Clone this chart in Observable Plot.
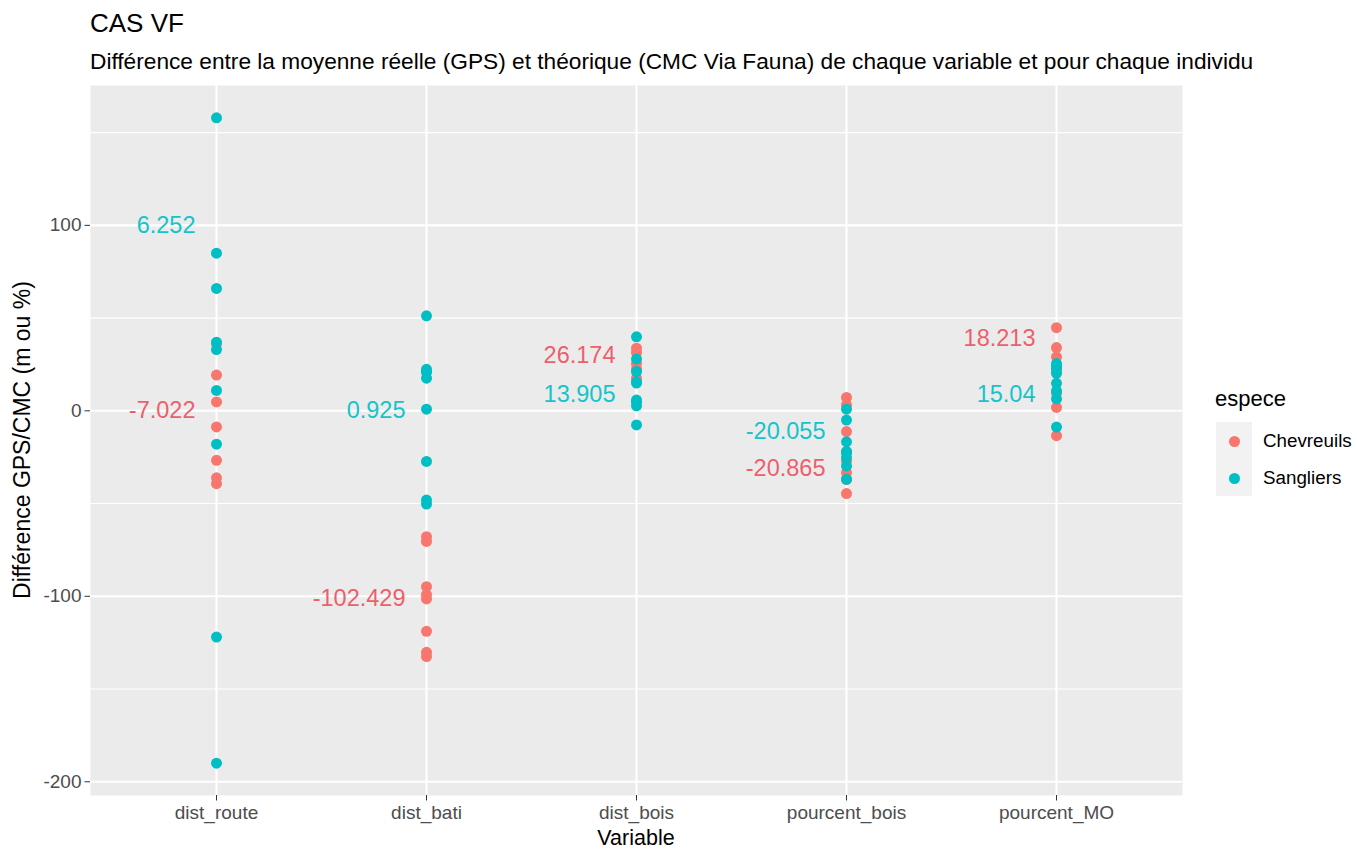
<!DOCTYPE html>
<html>
<head>
<meta charset="utf-8">
<script src="https://cdn.jsdelivr.net/npm/d3@7"></script>
<script src="https://cdn.jsdelivr.net/npm/@observablehq/plot@0.6"></script>
<style>
  html, body { margin: 0; padding: 0; background: #ffffff; }
  #wrap { position: relative; width: 1357px; height: 850px; overflow: hidden; font-family: "Liberation Sans", Arial, sans-serif; }
  #wrap svg { position: absolute; left: 0; top: 0; }
  .t { position: absolute; white-space: nowrap; line-height: 1; }
</style>
</head>
<body>
<div id="wrap"></div>
<script>
// ---- Data ----
const variables = ["dist_route", "dist_bati", "dist_bois", "pourcent_bois", "pourcent_MO"];
const especes = ["Chevreuils", "Sangliers"];

// Chevreuils (difference per individual)
const chev_dist_route = [19.3, 4.8, -8.7, -26.7, -36.1, -39.3, 36];
const chev_dist_bati = [-67.9, -70.4, -94.8, -99.1, -101.4, -118.9, -130.2, -132.5];
const chev_dist_bois = [33.8, 31.5, 22.5, 17.6, 25.5];
const chev_pourcent_bois = [7.2, 3.2, -11.2, -27.0, -33.3, -44.6, -37.0, -22.0];
const chev_pourcent_MO = [44.8, 34.1, 29.1, 9.5, 1.8, -13.4, 21.0];

// Sangliers
const sang_dist_route = [158, 85, 66, 37, 33, 11, -18, -122, -190];
const sang_dist_bati = [51.2, 22.4, 17.6, 0.9, -27.3, -48.1, -50.3, 21, 21];
const sang_dist_bois = [39.9, 27.9, 21.2, 15.6, 5.8, 2.7, -7.6, 15, 4.6];
const sang_pourcent_bois = [0.9, -5.0, -16.7, -22.5, -25.2, -29.7, -36.9, -22.0];
const sang_pourcent_MO = [25.5, 22.9, 20.2, 14.8, 10.7, 6.4, -8.75, 24, 23];

// Mean labels
const labelVariable = ["dist_route", "dist_route", "dist_bati", "dist_bati", "dist_bois", "dist_bois", "pourcent_bois", "pourcent_bois", "pourcent_MO", "pourcent_MO"];
const labelEspece = ["Chevreuils", "Sangliers", "Chevreuils", "Sangliers", "Chevreuils", "Sangliers", "Chevreuils", "Sangliers", "Chevreuils", "Sangliers"];
const labelText = ["-7.022", "6.252", "-102.429", "0.925", "26.174", "13.905", "-20.865", "-20.055", "18.213", "15.04"];
const labelY = [0, 100, -101, 0, 30, 9, -31, -11, 39, 9];

const yMajor = [-200, -100, 0, 100];
const yMinor = [-150, -50, 50, 150];

const titleText = "CAS VF";
const subtitleText = "Différence entre la moyenne réelle (GPS) et théorique (CMC Via Fauna) de chaque variable et pour chaque individu";
const xTitle = "Variable";
const yTitle = "Différence GPS/CMC (m ou %)";
const legendTitle = "espece";

// ---- Build table ----
const series = [
  ["Chevreuils", [chev_dist_route, chev_dist_bati, chev_dist_bois, chev_pourcent_bois, chev_pourcent_MO]],
  ["Sangliers", [sang_dist_route, sang_dist_bati, sang_dist_bois, sang_pourcent_bois, sang_pourcent_MO]]
];
const points = [];
for (const [esp, arrs] of series) {
  arrs.forEach((arr, i) => arr.forEach(v => points.push({espece: esp, variable: variables[i], value: v})));
}
const labels = labelText.map((t, i) => ({variable: labelVariable[i], espece: labelEspece[i], text: t, y: labelY[i]}));

const ext = d3.extent(points, d => d.value);
const pad = (ext[1] - ext[0]) * 0.05;

const colors = ["#F8766D", "#00BFC4"];
const labelColors = ["#EC5F6C", "#14C4CB"];

const plot = Plot.plot({
  width: 1357,
  height: 850,
  marginLeft: 90,
  marginRight: 175,
  marginTop: 85,
  marginBottom: 55,
  style: {fontFamily: "'Liberation Sans', Arial, sans-serif", background: "transparent", overflow: "visible"},
  x: {type: "point", domain: variables, padding: 0.6, label: null},
  y: {domain: [ext[0] - pad, ext[1] + pad], label: null},
  color: {domain: especes, range: colors},
  marks: [
    Plot.frame({fill: "#EBEBEB", stroke: null}),
    Plot.ruleY(yMinor, {stroke: "#FFFFFF", strokeWidth: 1.1}),
    Plot.ruleY(yMajor, {stroke: "#FFFFFF", strokeWidth: 2.1}),
    Plot.ruleX(variables, {stroke: "#FFFFFF", strokeWidth: 2.1}),
    Plot.dot(points, {x: "variable", y: "value", fill: "espece", r: 5.5, stroke: null}),
    ...especes.map((e, i) => Plot.text(labels.filter(d => d.espece === e), {x: "variable", y: "y", text: "text", fill: labelColors[i], textAnchor: "end", dx: -21, fontSize: 23.5})),
    Plot.axisY({ticks: yMajor, tickFormat: d => String(d), tickSize: 5.5, tickPadding: 3.5, fontSize: 19, color: "#4D4D4D", stroke: "#333333", label: null}),
    Plot.axisX({tickSize: 5.5, tickPadding: 4, fontSize: 19, color: "#4D4D4D", stroke: "#333333", label: null})
  ]
});

const wrap = document.getElementById("wrap");
wrap.appendChild(plot);

function addText(txt, css) {
  const d = document.createElement("div");
  d.className = "t";
  d.textContent = txt;
  Object.assign(d.style, css);
  wrap.appendChild(d);
  return d;
}
addText(titleText, {left: "90px", top: "10px", fontSize: "26px", color: "#000"});
addText(subtitleText, {left: "90px", top: "50px", fontSize: "22.7px", color: "#000"});
addText(xTitle, {left: "636px", top: "829px", fontSize: "21.5px", lineHeight: "18px", color: "#000", transform: "translateX(-50%)"});
addText(yTitle, {left: "22px", top: "440px", fontSize: "23px", color: "#000", transform: "translate(-50%,-50%) rotate(-90deg)"});
addText(legendTitle, {left: "1215px", top: "388px", fontSize: "22px", color: "#000"});

// legend keys
const key = document.createElement("div");
Object.assign(key.style, {position: "absolute", left: "1216px", top: "422px", width: "36px", height: "74px", background: "#F2F2F2"});
wrap.appendChild(key);
const cs = plot.scale("color");
especes.forEach((e, i) => {
  const cy = 441 + i * 37;
  const dot = document.createElement("div");
  Object.assign(dot.style, {position: "absolute", left: (1234 - 5.5) + "px", top: (cy - 5.5) + "px", width: "11px", height: "11px", borderRadius: "50%", background: cs.apply(e)});
  wrap.appendChild(dot);
  addText(e, {left: "1263px", top: (cy - 9.5) + "px", fontSize: "18.8px", color: "#000"});
});
</script>
</body>
</html>
